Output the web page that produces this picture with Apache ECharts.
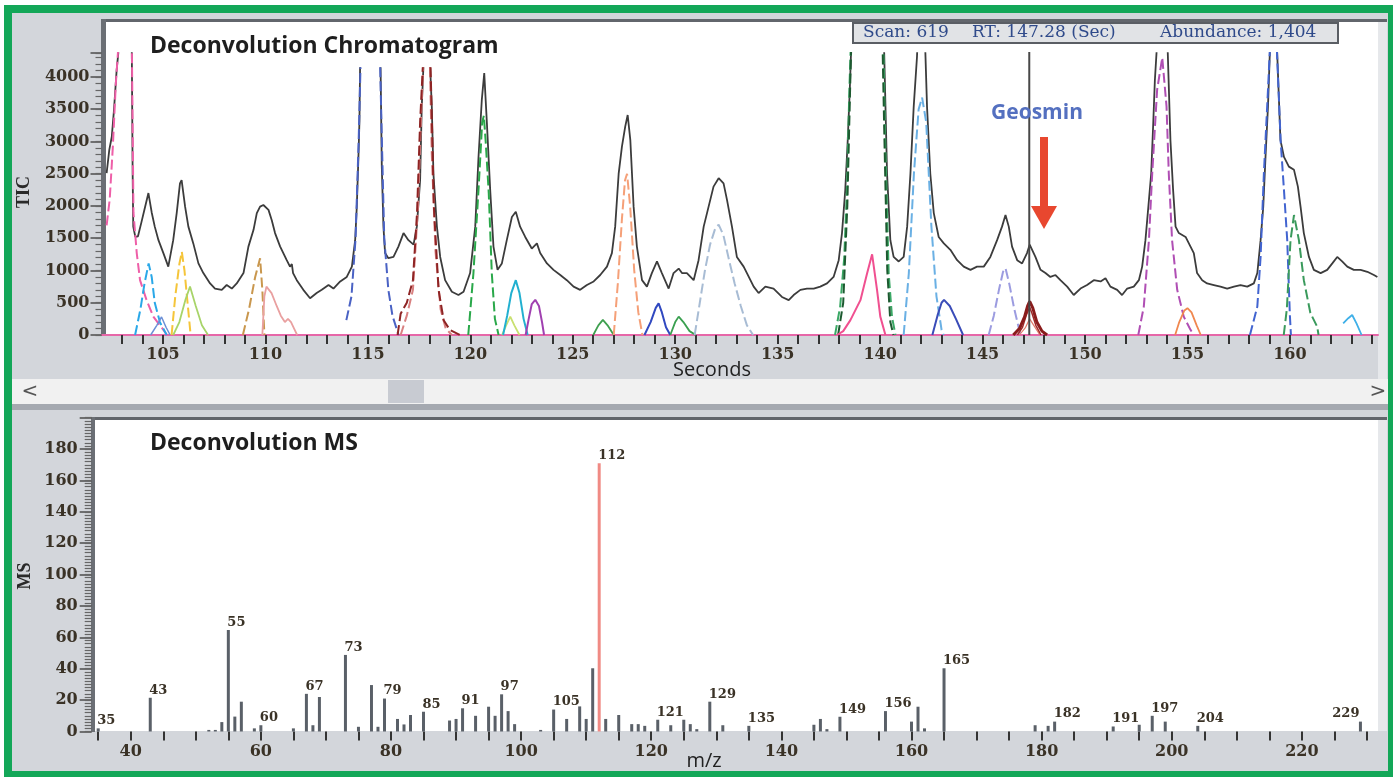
<!DOCTYPE html>
<html><head><meta charset="utf-8">
<script src="https://cdn.jsdelivr.net/npm/echarts@6/dist/echarts.min.js"></script>
<style>html,body{margin:0;padding:0;background:#fff;}#c{width:1393px;height:777px;}</style>
</head><body><div id="c"></div>
<script>
// ---------- Chromatogram data (seconds, abundance) ----------
const ticData = [[102.25,2510],[102.38,2870],[102.5,3070],[102.61,3490],[102.74,4110],[102.82,4370],[103.1,6500],[103.48,4370],[103.52,2500],[103.55,1680],[103.65,1520],[103.78,1530],[103.95,1750],[104.1,1950],[104.29,2200],[104.45,1900],[104.6,1680],[104.78,1470],[105.02,1270],[105.26,1060],[105.34,1030],[105.5,1470],[105.67,1890],[105.83,2350],[105.91,2400],[106.08,1990],[106.24,1680],[106.48,1420],[106.73,1110],[106.97,960],[107.3,800],[107.54,720],[107.87,700],[108.11,775],[108.36,720],[108.6,800],[108.93,960],[109.17,1370],[109.42,1630],[109.58,1890],[109.74,1990],[109.9,2015],[110.15,1940],[110.31,1780],[110.47,1580],[110.72,1370],[111.04,1160],[111.2,1060],[111.29,1100],[111.35,960],[111.53,850],[111.85,700],[112.18,570],[112.5,650],[112.75,700],[113.08,775],[113.32,720],[113.65,830],[113.97,900],[114.22,1060],[114.38,1470],[114.46,1990],[114.54,2760],[114.59,3330],[114.62,4150],[115.1,'-'],[115.62,4150],[115.68,2610],[115.76,1680],[115.84,1270],[116.0,1190],[116.25,1210],[116.49,1370],[116.74,1580],[116.98,1470],[117.23,1400],[117.39,1680],[117.55,2400],[117.63,3540],[117.71,4150],[117.9,'-'],[118.04,4150],[118.12,3540],[118.2,2500],[118.37,1680],[118.53,1210],[118.77,850],[119.1,670],[119.42,620],[119.67,670],[119.99,960],[120.24,1680],[120.4,2760],[120.56,3640],[120.68,4060],[120.81,3280],[120.97,2250],[121.13,1370],[121.33,1010],[121.54,1110],[121.78,1470],[122.03,1830],[122.22,1910],[122.43,1680],[122.68,1520],[123.0,1340],[123.25,1420],[123.41,1270],[123.74,1110],[124.06,1010],[124.39,930],[124.71,850],[125.04,750],[125.36,700],[125.69,775],[126.02,830],[126.34,930],[126.67,1060],[126.91,1270],[127.07,1680],[127.24,2500],[127.4,2920],[127.56,3230],[127.68,3410],[127.81,3020],[127.97,1990],[128.13,1370],[128.38,850],[128.62,750],[128.86,960],[129.11,1140],[129.35,960],[129.68,720],[129.92,960],[130.17,1030],[130.33,960],[130.57,960],[130.9,850],[131.14,1160],[131.39,1680],[131.63,1990],[131.87,2300],[132.12,2430],[132.36,2350],[132.53,2090],[132.77,1680],[133.01,1210],[133.34,1060],[133.5,960],[133.83,750],[134.07,650],[134.4,750],[134.8,720],[135.21,590],[135.54,540],[135.78,620],[136.11,700],[136.43,720],[136.76,720],[137.08,750],[137.41,800],[137.73,900],[137.98,1160],[138.14,1580],[138.3,2250],[138.42,3020],[138.52,3800],[138.58,4370],[139.4,8000],[140.2,4370],[140.34,2500],[140.5,1470],[140.66,1210],[140.91,1140],[141.15,1210],[141.32,1680],[141.48,2500],[141.64,3540],[141.8,4310],[142.0,6000],[142.21,4370],[142.29,3540],[142.45,2500],[142.62,1890],[142.86,1520],[143.11,1420],[143.43,1320],[143.76,1160],[144.08,1060],[144.41,1010],[144.73,1060],[145.06,1060],[145.38,1210],[145.71,1470],[145.95,1680],[146.12,1860],[146.28,1680],[146.44,1370],[146.69,1160],[146.93,1110],[147.17,1270],[147.3,1400],[147.58,1210],[147.83,1010],[148.07,960],[148.31,900],[148.56,930],[148.8,850],[149.13,750],[149.45,620],[149.78,720],[150.1,775],[150.43,850],[150.76,830],[151.0,880],[151.24,750],[151.57,700],[151.81,620],[152.06,720],[152.38,750],[152.63,850],[152.79,1060],[152.95,1470],[153.12,2090],[153.23,2500],[153.33,3280],[153.41,3950],[153.49,4370],[153.75,6000],[154.04,4370],[154.17,3020],[154.3,2250],[154.42,1680],[154.58,1580],[154.91,1520],[155.15,1370],[155.31,1270],[155.47,960],[155.72,850],[155.96,800],[156.29,775],[156.61,750],[156.94,720],[157.27,750],[157.59,775],[157.92,750],[158.24,800],[158.41,960],[158.57,1470],[158.7,1990],[158.81,2760],[158.93,3540],[159.02,4370],[159.2,6000],[159.38,4370],[159.54,3020],[159.71,2760],[159.95,2610],[160.2,2560],[160.39,2300],[160.52,1990],[160.68,1580],[160.93,1210],[161.17,1010],[161.5,960],[161.82,1010],[162.07,1110],[162.31,1210],[162.55,1140],[162.8,1060],[163.12,1010],[163.45,1010],[163.78,980],[164.1,930],[164.27,900]];

const pk103 = [[102.25,1700],[102.4,2100],[102.55,2900],[102.7,3900],[102.85,4600],[103.15,6500],[103.48,4500],[103.56,1900],[103.72,1270],[103.88,850],[104.2,540],[104.53,285],[105.02,80],[105.2,0]];
const pk104 = [[103.64,0],[103.9,400],[104.1,800],[104.3,1110],[104.45,900],[104.6,500],[104.85,200],[105.18,0]];
const pk105 = [[104.4,0],[104.7,150],[104.93,280],[105.15,120],[105.35,0]];
const pk106y = [[105.42,0],[105.6,600],[105.8,1100],[105.92,1290],[106.05,1000],[106.2,500],[106.35,0]];
const pk106g = [[105.5,0],[105.8,200],[106.1,550],[106.32,750],[106.6,450],[106.9,150],[107.2,0]];
const pk110t = [[108.9,0],[109.2,400],[109.5,900],[109.74,1190],[109.85,700],[109.95,0]];
const pk110s = [[109.85,0],[109.95,600],[110.05,750],[110.3,650],[110.55,450],[110.75,300],[110.95,200],[111.1,250],[111.25,200],[111.4,100],[111.55,0]];
const pk115 = [[113.95,230],[114.2,600],[114.4,1500],[114.55,3000],[114.64,4150],[115.1,'-'],[115.6,4150],[115.7,2800],[115.8,1500],[116.0,700],[116.2,300],[116.5,0]];
const pk118 = [[116.45,0],[116.6,330],[116.9,500],[117.2,850],[117.4,1900],[117.55,3300],[117.68,4150],[117.9,'-'],[118.06,4150],[118.15,3000],[118.22,2000],[118.45,700],[118.7,230],[119.0,80],[119.5,0]];
const pk118b = [[116.6,0],[116.9,300],[117.2,700],[117.45,2000],[117.6,3400],[117.7,4150],[117.9,'-'],[118.03,4150],[118.12,2800],[118.3,1300],[118.55,400],[118.8,100],[119.1,0]];
const pk121 = [[119.9,0],[120.15,950],[120.4,2250],[120.58,3300],[120.66,3400],[120.75,3000],[120.9,2200],[121.05,950],[121.2,250],[121.38,0]];
const pk122c = [[121.6,0],[121.8,300],[122.0,650],[122.22,850],[122.4,650],[122.6,250],[122.8,0]];
const pk122y = [[121.55,0],[121.75,150],[121.95,285],[122.15,150],[122.4,0]];
const pk123 = [[122.7,0],[122.85,250],[123.0,480],[123.17,545],[123.35,450],[123.5,200],[123.6,0]];
const pk126 = [[126.0,0],[126.25,150],[126.47,235],[126.7,150],[127.0,0]];
const pk128 = [[127.0,0],[127.2,800],[127.4,1800],[127.55,2400],[127.65,2500],[127.8,2000],[128.0,1000],[128.2,350],[128.4,0]];
const pk129 = [[128.5,0],[128.8,200],[129.05,420],[129.19,490],[129.35,350],[129.55,120],[129.76,0]];
const pk130 = [[129.76,0],[130.0,200],[130.17,285],[130.4,200],[130.7,60],[131.0,0]];
const pk132 = [[130.95,0],[131.2,500],[131.45,1000],[131.7,1400],[131.95,1650],[132.12,1710],[132.35,1550],[132.6,1200],[132.9,800],[133.2,450],[133.5,150],[133.8,0]];
const pk139g = [[137.8,0],[138.05,440],[138.25,1200],[138.38,2250],[138.5,3800],[138.58,4600],[139.4,9000],[140.15,4600],[140.25,3000],[140.42,950],[140.58,280],[140.75,0]];
const pk139d = [[137.95,0],[138.2,500],[138.4,2000],[138.55,4000],[138.62,4800],[139.4,9000],[140.1,4800],[140.2,3200],[140.35,1000],[140.5,200],[140.65,0]];
const pk139p = [[137.9,0],[138.2,60],[138.55,230],[139.04,540],[139.36,950],[139.61,1250],[139.85,700],[140.01,285],[140.26,0]];
const pk142 = [[141.15,0],[141.4,950],[141.65,2500],[141.88,3500],[142.05,3680],[142.25,3300],[142.5,1700],[142.75,600],[143.0,80],[143.1,0]];
const pk143 = [[142.55,0],[142.8,300],[143.0,500],[143.12,545],[143.4,450],[143.7,250],[144.05,0]];
const pk146 = [[145.3,0],[145.55,300],[145.8,700],[146.0,980],[146.12,1035],[146.3,800],[146.55,400],[146.85,0]];
const geoA = [[146.5,0],[146.8,100],[147.05,280],[147.2,450],[147.3,520],[147.45,420],[147.65,200],[147.9,60],[148.15,0]];
const geoB = [[146.7,0],[146.95,120],[147.15,320],[147.3,430],[147.42,330],[147.6,150],[147.85,0]];
const geoC = [[146.8,0],[147.1,120],[147.3,250],[147.5,150],[147.8,0]];
const pk154 = [[152.6,0],[152.87,440],[153.12,1470],[153.28,2500],[153.52,3800],[153.77,4300],[153.98,3540],[154.09,2500],[154.25,1470],[154.5,700],[154.82,285],[155.15,80],[155.3,0]];
const pk155 = [[154.4,0],[154.6,200],[154.85,380],[155.0,415],[155.2,350],[155.45,150],[155.65,0]];
const pk159 = [[158.05,0],[158.41,440],[158.57,1210],[158.73,2500],[158.9,3600],[159.05,4600],[159.2,6000],[159.38,4300],[159.55,3000],[159.71,2250],[159.87,1470],[160.0,300],[160.05,0]];
const pk160 = [[159.7,0],[159.85,400],[160.03,1470],[160.2,1860],[160.44,1470],[160.68,850],[161.0,340],[161.33,130],[161.4,0]];
const pk163 = [[162.6,180],[162.85,260],[163.04,310],[163.25,180],[163.5,0]];

const cursorRT = 147.28;

// ---------- Mass spectrum data ----------
const msMz  = [35,43,52,53,54,55,56,57,59,60,65,67,68,69,73,75,77,78,79,81,82,83,85,89,90,91,93,95,96,97,98,99,103,105,107,109,110,111,112,113,115,117,118,119,121,123,125,126,127,129,131,135,145,146,147,149,156,160,161,162,165,179,181,182,191,195,197,199,204,229];
const msInt = [2,21.5,1,1,6,64.7,9.5,19,2,4,2,24,4,22,48.8,3,29.6,3,21,8,4.5,10.5,12.6,7,8,14.8,10,15.8,10,23.7,13,4.7,1,14,8,16,8,40.3,171,8,10.5,4.7,4.7,3.6,7.5,4,7.5,4.7,1.5,19,4,3.6,4.3,8,1.5,9.4,13,6.3,15.8,2,40.3,4,3.6,6.3,3.2,4.3,10,6.3,3.6,6.3];
const msLabeled = [35,43,55,60,67,73,79,85,91,97,105,112,121,129,135,149,156,165,182,191,197,204,229];
const msLabelLeftSide = [229];
const msHighlight = 112;

// ---------- Axis ticks ----------
const topTickValues = []; for (let t = 103; t <= 164; t++) topTickValues.push(t);
const topLabelValues = [105,110,115,120,125,130,135,140,145,150,155,160];
const msTickValues = []; for (let m = 35; m <= 230; m += 5) msTickValues.push(m);
const msLabelValues = [40,60,80,100,120,140,160,180,200,220];

// ---------- Build ----------
const serifLbl = {fontFamily:'DejaVu Serif', fontWeight:'bold', fontSize:16, color:'#3a3226'};
function comp(data, color, dashed, width) {
  return {type:'line', xAxisIndex:0, yAxisIndex:0, data:data, symbol:'none', silent:true,
    lineStyle:{color:color, width:width||2, type: dashed ? [10,4] : 'solid'}, z:3};
}
const series = [
  {type:'line', xAxisIndex:0, yAxisIndex:0, data:ticData, symbol:'none', silent:true,
   lineStyle:{color:'#3c3c3c', width:1.8}, z:2},
  comp(pk103,'#ee5fa8',true),
  comp(pk104,'#2aa8e8',true),
  comp(pk105,'#6b8fd6',false,1.5),
  comp(pk106y,'#f5c53a',true),
  comp(pk106g,'#a8d46a',false,1.8),
  comp(pk110t,'#c9974e',true),
  comp(pk110s,'#e9a0a0',false,1.8),
  comp(pk115,'#4a62c4',true),
  comp(pk118b,'#d88080',true),
  comp(pk118,'#8e2424',true),
  comp(pk121,'#2aa84a',true),
  comp(pk122y,'#c9e070',false,1.8),
  comp(pk122c,'#22b0d0',false,2),
  comp(pk123,'#a040b0',false,2),
  comp(pk126,'#3fa050',false,1.8),
  comp(pk128,'#f5a078',true),
  comp(pk129,'#3048c0',false,2),
  comp(pk130,'#3aa050',false,1.8),
  comp(pk132,'#a8bcd4',true),
  comp(pk139g,'#3aa865',true),
  comp(pk139d,'#1d5a30',true),
  comp(pk139p,'#f05090',false,2),
  comp(pk142,'#6ab0e4',true),
  comp(pk143,'#3a4cb8',false,2),
  comp(pk146,'#9c9ce0',true),
  comp(geoC,'#e07a6a',false,1.2),
  comp(geoB,'#a02828',false,1.5),
  comp(geoA,'#8a1c1c',false,3),
  comp(pk154,'#b04fb4',true),
  comp(pk155,'#f08850',false,1.8),
  comp(pk159,'#4264d0',true),
  comp(pk160,'#3a9a5c',true),
  comp(pk163,'#40b0e8',false,1.8),
  {type:'line', xAxisIndex:0, yAxisIndex:0, data:[[cursorRT,0],[cursorRT,4390]], symbol:'none', silent:true,
   lineStyle:{color:'#484848', width:2}, z:5},
  {type:'bar', xAxisIndex:1, yAxisIndex:1, barWidth:3, silent:true,
   data: msMz.map((m,i) => {
     const left = msLabelLeftSide.indexOf(m) >= 0;
     return {
       value:[m, msInt[i]],
       itemStyle:{color: m===msHighlight ? '#f08a84' : '#5a6068'},
       label: left ? {show:true, align:'right', offset:[-1,0]} : {show: msLabeled.indexOf(m) >= 0}
     };
   }),
   label:{position:'top', align:'left', distance:1, offset:[-1,0], formatter:p => p.value[0],
     fontFamily:'DejaVu Serif', fontWeight:'bold', fontSize:13, color:'#3a3226'}}
];

const G = [
  {type:'rect', shape:{x:4,y:5,width:1389,height:772}, style:{fill:'#13a758'}, z:-20},
  {type:'rect', shape:{x:12,y:13,width:1376,height:758}, style:{fill:'#d3d6db'}, z:-19},
  // top panel
  {type:'rect', shape:{x:1378,y:19,width:9,height:360}, style:{fill:'#e6e8eb'}, z:-18},
  {type:'rect', shape:{x:101,y:19,width:1286,height:3}, style:{fill:'#62666c'}, z:-18},
  {type:'rect', shape:{x:101,y:19,width:5,height:316}, style:{fill:'#6b6f75'}, z:-18},
  {type:'rect', shape:{x:106,y:22,width:1272,height:313}, style:{fill:'#ffffff'}, z:-18},
  // scrollbar
  {type:'rect', shape:{x:12,y:379,width:1376,height:25}, style:{fill:'#f1f1f1'}, z:-18},
  {type:'rect', shape:{x:388,y:380,width:36,height:23}, style:{fill:'#c8cbd2'}, z:-17},
  {type:'rect', shape:{x:12,y:404,width:1376,height:6}, style:{fill:'#a5a9b0'}, z:-18},
  {type:'text', x:30, y:392, style:{text:'<', font:'20px "DejaVu Sans"', fill:'#555', textAlign:'center', textVerticalAlign:'middle'}, z:10},
  {type:'text', x:1378, y:392, style:{text:'>', font:'20px "DejaVu Sans"', fill:'#555', textAlign:'center', textVerticalAlign:'middle'}, z:10},
  // bottom panel
  {type:'rect', shape:{x:1378,y:417,width:9,height:314}, style:{fill:'#e6e8eb'}, z:-18},
  {type:'rect', shape:{x:91,y:417,width:1296,height:3}, style:{fill:'#62666c'}, z:-18},
  {type:'rect', shape:{x:91,y:417,width:4,height:315}, style:{fill:'#6b6f75'}, z:-18},
  {type:'rect', shape:{x:95,y:420,width:1283,height:311}, style:{fill:'#ffffff'}, z:-18},
  // header box
  {type:'rect', shape:{x:853,y:23,width:485,height:20}, style:{fill:'#e1e3e6', stroke:'#5a5e64', lineWidth:2}, z:10},
  {type:'text', x:863, y:33, style:{text:'Scan: 619', font:'17px "DejaVu Serif"', fill:'#2f4a8a', textAlign:'left', textVerticalAlign:'middle'}, z:11},
  {type:'text', x:972, y:33, style:{text:'RT: 147.28 (Sec)', font:'17px "DejaVu Serif"', fill:'#2f4a8a', textAlign:'left', textVerticalAlign:'middle'}, z:11},
  {type:'text', x:1160, y:33, style:{text:'Abundance: 1,404', font:'17px "DejaVu Serif"', fill:'#2f4a8a', textAlign:'left', textVerticalAlign:'middle'}, z:11},
  // titles
  {type:'text', x:150, y:46, style:{text:'Deconvolution Chromatogram', font:'bold 23px "Open Sans"', fill:'#1e1e1e', textAlign:'left', textVerticalAlign:'middle'}, z:11},
  {type:'text', x:150, y:443, style:{text:'Deconvolution MS', font:'bold 23px "Open Sans"', fill:'#1e1e1e', textAlign:'left', textVerticalAlign:'middle'}, z:11},
  // annotation
  {type:'text', x:1037, y:113, style:{text:'Geosmin', font:'bold 21px "Open Sans"', fill:'#5470c0', textAlign:'center', textVerticalAlign:'middle'}, z:11},
  {type:'rect', shape:{x:1040,y:137,width:8,height:70}, style:{fill:'#e8472f'}, z:11},
  {type:'polygon', shape:{points:[[1031,206],[1057,206],[1044,229]]}, style:{fill:'#e8472f'}, z:11},
  // axis names
  {type:'text', x:712, y:370, style:{text:'Seconds', font:'20px "Open Sans"', fill:'#222', textAlign:'center', textVerticalAlign:'middle'}, z:11},
  {type:'text', x:704, y:761, style:{text:'m/z', font:'20px "Open Sans"', fill:'#222', textAlign:'center', textVerticalAlign:'middle'}, z:11},
  {type:'text', x:24, y:192, rotation:Math.PI/2, style:{text:'TIC', font:'bold 18px "Liberation Serif"', fill:'#2a2a2a', textAlign:'center', textVerticalAlign:'middle'}, z:11},
  {type:'text', x:25, y:576, rotation:Math.PI/2, style:{text:'MS', font:'bold 18px "Liberation Serif"', fill:'#2a2a2a', textAlign:'center', textVerticalAlign:'middle'}, z:11}
];

const noLbl = {show:false};
const chart = echarts.init(document.getElementById('c'), null, {renderer:'canvas'});
chart.setOption({
  animation:false,
  backgroundColor:'#ffffff',
  graphic:{elements:G},
  grid:[
    {left:101.5, right:15, top:53.1, bottom:442},
    {left:91.7, right:15, top:417.7, bottom:45.5}
  ],
  xAxis:[
    {gridIndex:0, type:'value', min:102, max:164.3,
     axisLine:{show:true, onZero:false, lineStyle:{color:'#e667a8', width:2}},
     axisTick:{show:true, customValues:topTickValues, length:9, lineStyle:{color:'#333', width:2}},
     axisLabel:Object.assign({customValues:topLabelValues, margin:12}, serifLbl),
     splitLine:{show:false}},
    {gridIndex:1, type:'value', min:34, max:231.7,
     axisLine:{show:false},
     axisTick:{show:true, customValues:msTickValues, length:9, lineStyle:{color:'#333', width:2}},
     axisLabel:Object.assign({customValues:msLabelValues, margin:12}, serifLbl),
     splitLine:{show:false}}
  ],
  yAxis:[
    {gridIndex:0, type:'value', position:'left', min:0, max:4370, interval:500,
     axisLine:{show:false},
     axisTick:{show:true, length:11, lineStyle:{color:'#555', width:1.6}},
     axisLabel:Object.assign({margin:12, formatter:v => (v % 500 === 0 ? String(v) : '')}, serifLbl),
     splitLine:{show:false}},
    {gridIndex:1, type:'value', position:'left', min:0, max:200, interval:20,
     axisLine:{show:false},
     axisTick:{show:true, length:12, lineStyle:{color:'#555', width:1.6}},
     axisLabel:Object.assign({margin:14, formatter:v => (v <= 180 ? String(v) : '')}, serifLbl),
     splitLine:{show:false}},
    // minor tick axes
    {gridIndex:0, type:'value', position:'left', offset:0, min:0, max:4370, interval:100,
     axisLine:{show:false}, axisLabel:noLbl, splitLine:{show:false},
     axisTick:{show:true, length:6, lineStyle:{color:'#666', width:1.2}}},
    {gridIndex:1, type:'value', position:'left', offset:0, min:0, max:200, interval:2,
     axisLine:{show:false}, axisLabel:noLbl, splitLine:{show:false},
     axisTick:{show:true, length:7, lineStyle:{color:'#666', width:1.2}}}
  ],
  series:series
});
</script>
</body></html>
